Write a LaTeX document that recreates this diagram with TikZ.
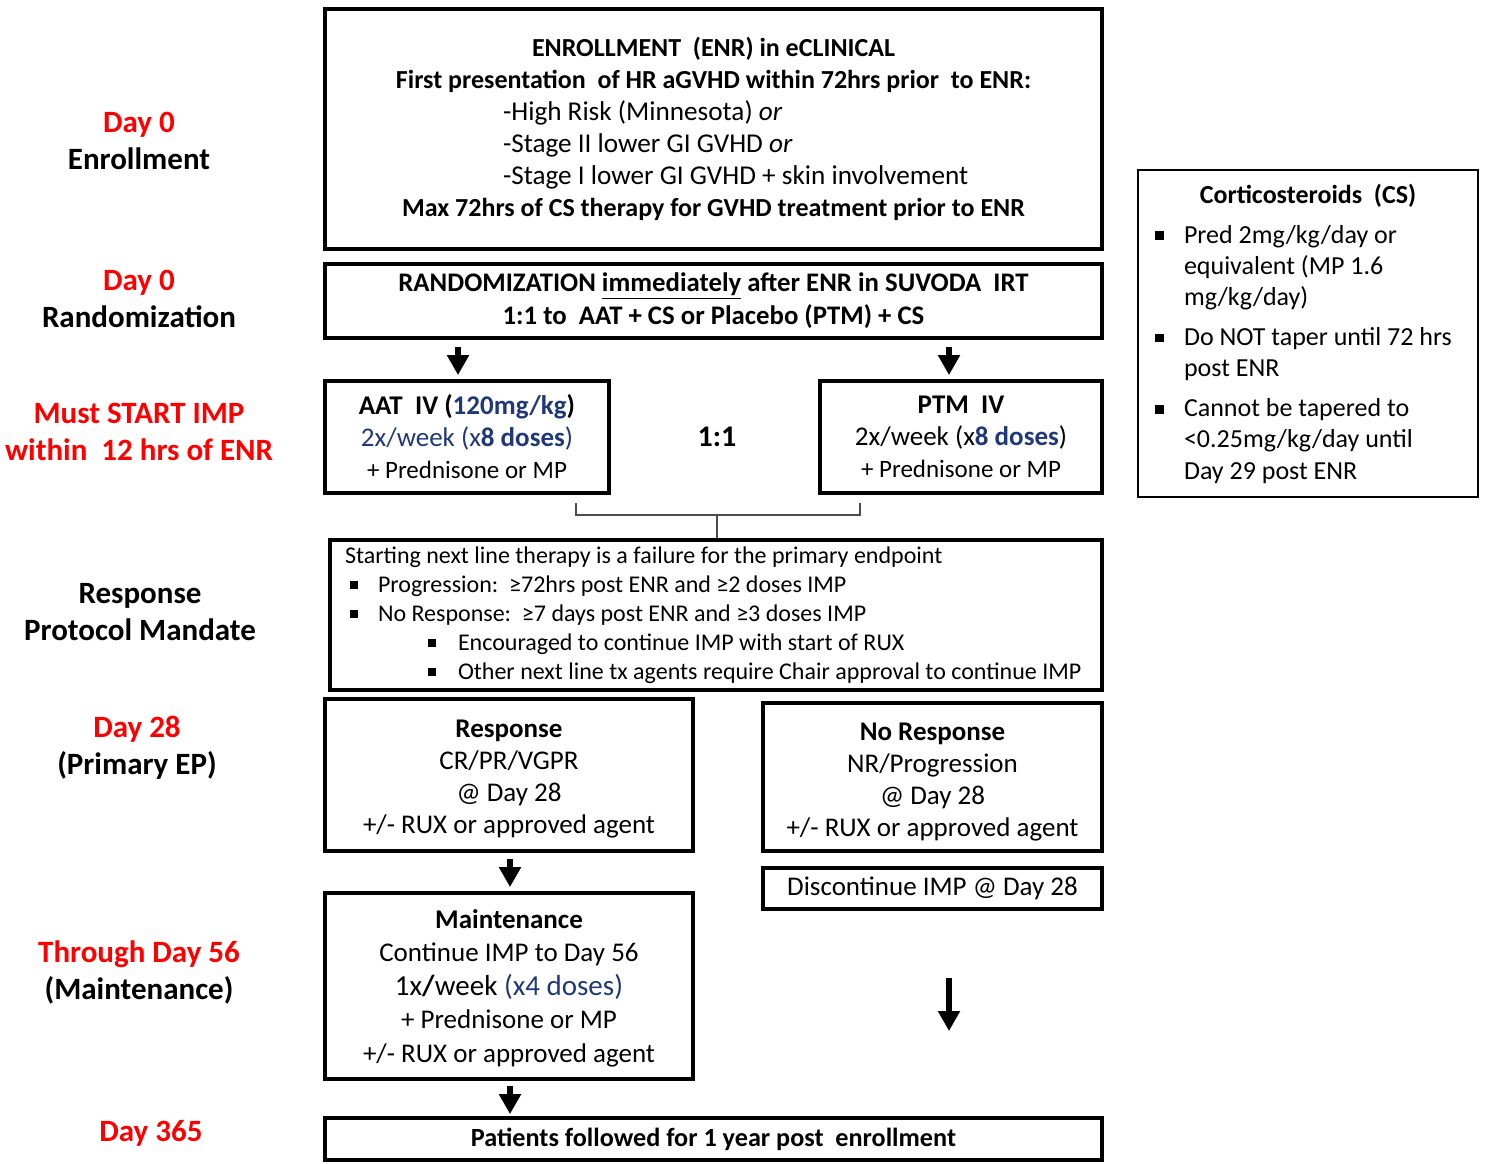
\documentclass[tikz,border=0pt]{standalone}
\usepackage{fontspec}
\setmainfont{Carlito}
\usetikzlibrary{arrows.meta,calc}
\definecolor{dayred}{RGB}{255,0,0}
\definecolor{navy}{RGB}{31,56,122}
\newcommand\sqb{\rule[0.25ex]{0.34em}{0.34em}}
\newcommand\fs[2]{\fontsize{#1}{#2}\selectfont}
\newcommand\csb{\hspace*{3.5pt}\makebox[14.5pt][l]{\sqb}}
\newcommand\csi{\hspace*{18pt}}
\begin{document}
\begin{tikzpicture}[x=0.5pt,y=-0.5pt,
  box/.style={draw, line width=1.9pt, inner sep=0pt, anchor=center},
  lab/.style={align=center, font=\bfseries\fs{15.5}{18.5}},
  arr/.style={line width=3pt, -{Triangle[width=10.5pt,length=10pt]}},
  brk/.style={line width=1pt, draw=black!70}
]
\useasboundingbox (0,0) rectangle (1486,1163);

% left labels
\node[lab] (l1) at (139,141) {\textcolor{dayred}{Day 0}\\ Enrollment};
\node[lab] (l2) at (139,299) {\textcolor{dayred}{Day 0}\\ Randomization};
\node[lab, text=dayred] (l3) at (139,432) {Must START IMP\\ within\ \ 12 hrs of ENR};
\node[lab] (l4) at (140,612) {Response\\ Protocol Mandate};
\node[lab] (l5) at (137,748) {\textcolor{dayred}{Day 28}\\ (Primary EP)};
\node[lab] (l6) at (139,972) {\textcolor{dayred}{Through Day 56}\\ (Maintenance)};
\node[lab, text=dayred] (l7) at (151,1133) {Day 365};

% enrollment
\node[box, minimum width=388.5pt, minimum height=120pt, align=center, font=\fs{13}{16}] (enr) at (713.5,129)
{\textbf{ENROLLMENT\ \ (ENR) in eCLINICAL}\\
 \textbf{First presentation\ \ of HR aGVHD within 72hrs prior\ \ to ENR:}\\
 \makebox[210.5pt][l]{\fs{13.6}{16}-High Risk (Minnesota) \textit{or}}\\
 \makebox[210.5pt][l]{\fs{13.6}{16}-Stage II lower GI GVHD \textit{or}}\\
 \makebox[210.5pt][l]{\fs{13.6}{16}-Stage I lower GI GVHD + skin involvement}\\
 \textbf{Max 72hrs of CS therapy for GVHD treatment prior to ENR}};

% randomization
\node[box, minimum width=388.5pt, minimum height=37pt, align=center, font=\bfseries\fs{13.4}{16.5}] (rand) at (713.5,301)
{RANDOMIZATION \underline{immediately} after ENR in SUVODA\ \ IRT\\
 1:1 to\ \ AAT + CS or Placebo (PTM) + CS};

% arms
\node[box, minimum width=142pt, minimum height=56pt, align=center, font=\fs{13.5}{16}] (aat) at (467,437)
{\textbf{AAT\ \ IV (\textcolor{navy}{120mg/kg})}\\
 \textcolor{navy}{2x/week (x\textbf{8 doses})}\\
 {\fs{12.5}{14.5}+ Prednisone or MP}};
\node[box, minimum width=141pt, minimum height=56pt, align=center, font=\fs{13.5}{16}] (ptm) at (961,437)
{\textbf{PTM\ \ IV}\\
 2x/week (x\textcolor{navy}{\textbf{8 doses}})\\
 {\fs{12.5}{14.5}+ Prednisone or MP}};
\node[font=\bfseries\fs{15}{18}] (ratio) at (717,437) {1:1};

% response protocol
\node[box, minimum width=386pt, minimum height=75pt, text width=371pt, inner xsep=7.5pt, align=flush left, font=\fs{12}{14.5}] (rp) at (716,615)
{Starting next line therapy is a failure for the primary endpoint\\
 \hspace*{2.5pt}\makebox[14pt][l]{\sqb}Progression:\ \ ≥72hrs post ENR and ≥2 doses IMP\\
 \hspace*{2.5pt}\makebox[14pt][l]{\sqb}No Response:\ \ ≥7 days post ENR and ≥3 doses IMP\\
 \hspace*{41.5pt}\makebox[15pt][l]{\sqb}Encouraged to continue IMP with start of RUX\\
 \hspace*{41.5pt}\makebox[15pt][l]{\sqb}Other next line tx agents require Chair approval to continue IMP};

% day 28
\node[box, minimum width=184pt, minimum height=76pt, align=center, font=\fs{13.5}{16}] (resp) at (509,775)
{\rule{0pt}{12.7pt}\textbf{Response}\\ CR/PR/VGPR\\ @ Day 28\\ +/- RUX or approved agent};
\node[box, minimum width=169.5pt, minimum height=74pt, align=center, font=\fs{13.5}{16}] (nresp) at (932.5,777)
{\rule{0pt}{13.7pt}\textbf{No Response}\\ NR/Progression\\ @ Day 28\\ +/- RUX or approved agent};
\node[box, minimum width=169.5pt, minimum height=20.5pt, align=center, font=\fs{13.5}{16}] (disc) at (932.5,888.5)
{Discontinue IMP @ Day 28};

% maintenance
\node[box, minimum width=184pt, minimum height=93pt, align=center, font=\fs{13.5}{16.8}] (maint) at (509,986)
{\rule{0pt}{11.5pt}\textbf{Maintenance}\\ Continue IMP to Day 56\\
 {\fs{14.5}{17}1x\textbf{/}week \textcolor{navy}{(x4 doses)}}\\
 + Prednisone or MP\\ +/- RUX or approved agent};

% patients
\node[box, minimum width=388.5pt, minimum height=21pt, align=center, font=\bfseries\fs{13.1}{15}] (pat) at (713.5,1139)
{Patients followed for 1 year post\ \ enrollment};

% corticosteroids
\node[box, line width=1pt, minimum width=170pt, minimum height=163.5pt, text width=160pt, inner xsep=5pt, align=flush left, font=\fs{13}{15.6}] (cs) at (1308,333.5)
{\makebox[160pt][c]{\textbf{Corticosteroids\ \ (CS)}}\\[4.4pt]
 \csb Pred 2mg/kg/day or\\
 \csi equivalent (MP 1.6\\
 \csi mg/kg/day)\\[4.4pt]
 \csb Do NOT taper until 72 hrs\\
 \csi post ENR\\[4.4pt]
 \csb Cannot be tapered to\\
 \csi <0.25mg/kg/day until\\
 \csi Day 29 post ENR};

% arrows
\draw[arr, shorten <=3.5pt, shorten >=2pt] ($(aat.north |- rand.south)+(-9,0)$) -- ($(aat.north)+(-9,0)$);
\draw[arr, shorten <=3.5pt, shorten >=2pt] ($(ptm.north |- rand.south)+(-12,0)$) -- ($(ptm.north)+(-12,0)$);
\draw[arr, shorten <=3pt, shorten >=2pt] ($(resp.south)+(1,0)$) -- ($(maint.north)+(1,0)$);
\draw[arr, shorten <=2.5pt, shorten >=1pt] ($(maint.south)+(1,0)$) -- ($(maint.south |- pat.north)+(1,0)$);
\coordinate (na1) at (949,978);
\coordinate (na2) at (949,1031);
\draw[arr] (na1) -- (na2);

% bracket
\coordinate (bl) at (576,503);
\coordinate (br) at (860,503);
\coordinate (bm) at (717,515);
\draw[brk] (bl) -- (bl |- bm) -- (br |- bm) -- (br);
\draw[brk] (bm) -- (bm |- rp.north);
\end{tikzpicture}
\end{document}
